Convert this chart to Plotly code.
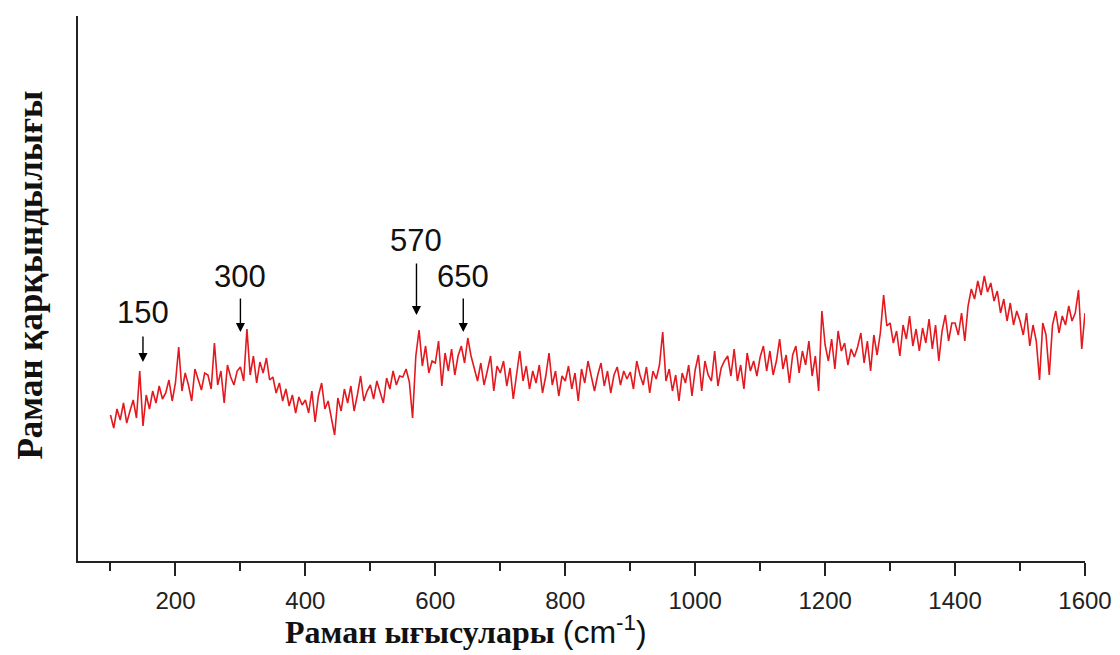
import plotly.graph_objects as go

# Raman shift grid (cm^-1), step 5
shift = list(range(100, 1601, 5))

# Intensity (arbitrary units), 10 values per 50 cm^-1
intensity = [
    146, 133, 152, 141, 158, 138, 150, 161, 143, 190,   # 100-145
    135, 166, 152, 170, 158, 175, 162, 168, 181, 160,   # 150-195
    178, 214, 170, 188, 176, 160, 192, 181, 171, 188,   # 200-245
    186, 172, 218, 176, 190, 158, 196, 184, 176, 190,   # 250-295
    194, 180, 232, 186, 205, 178, 199, 188, 203, 181,   # 300-345
    184, 168, 178, 160, 172, 155, 166, 148, 164, 156,   # 350-395
    161, 148, 170, 139, 165, 178, 152, 160, 144, 126,   # 400-445
    163, 150, 172, 158, 175, 150, 166, 185, 160, 170,   # 450-495
    176, 162, 180, 170, 158, 183, 172, 190, 176, 185,   # 500-545
    184, 192, 179, 143, 205, 231, 195, 215, 188, 200,   # 550-595
    198, 220, 175, 208, 190, 212, 186, 205, 215, 198,   # 600-645
    223, 205, 192, 180, 198, 176, 190, 205, 170, 195,   # 650-695
    188, 200, 175, 193, 162, 185, 210, 180, 195, 172,   # 700-745
    190, 178, 196, 168, 185, 208, 176, 190, 165, 185,   # 750-795
    180, 195, 172, 188, 160, 192, 178, 200, 185, 170,   # 800-845
    186, 198, 175, 190, 168, 186, 194, 176, 190, 182,   # 850-895
    189, 172, 200, 186, 176, 194, 168, 190, 182, 196,   # 900-945
    229, 180, 192, 170, 186, 160, 188, 178, 196, 165,   # 950-995
    191, 206, 170, 200, 186, 180, 210, 175, 193, 200,   # 1000-1045
    205, 185, 212, 180, 196, 172, 208, 190, 200, 185,   # 1050-1095
    204, 215, 190, 210, 186, 200, 222, 192, 206, 178,   # 1100-1145
    206, 215, 188, 210, 196, 220, 185, 205, 170, 250,   # 1150-1195
    216, 200, 222, 192, 230, 210, 218, 196, 212, 204,   # 1200-1245
    214, 228, 198, 220, 190, 226, 206, 228, 266, 235,   # 1250-1295
    238, 218, 230, 205, 236, 222, 245, 215, 232, 210,   # 1300-1345
    233, 218, 242, 212, 236, 200, 230, 246, 220, 238,   # 1350-1395
    238, 226, 248, 220, 255, 272, 262, 280, 266, 285,   # 1400-1445
    269, 278, 260, 270, 248, 262, 240, 258, 236, 250,   # 1450-1495
    240, 226, 248, 215, 236, 220, 181, 238, 226, 186,   # 1500-1545
    236, 250, 228, 245, 236, 255, 240, 248, 271, 212,   # 1550-1595
    248,                                                # 1600
]

# Peak markers: label, arrow head (x, y), arrow tail y, label y
peak_labels = ["150", "300", "570", "650"]
peak_x = [150, 300, 571, 643]
peak_head_y = [199, 229, 246, 229]
peak_tail_y = [226, 264, 299, 264]
peak_text_y = [249, 285, 321, 285]

x_ticks = [200, 400, 600, 800, 1000, 1200, 1400, 1600]
minor_ticks = [100, 300, 500, 700, 900, 1100, 1300, 1500]

fig = go.Figure()
fig.add_trace(go.Scatter(
    x=shift, y=intensity, mode="lines",
    line=dict(color="#e3191f", width=1.6),
    showlegend=False, hoverinfo="skip",
))

for lab, px, hy, ty, ly in zip(peak_labels, peak_x, peak_head_y, peak_tail_y, peak_text_y):
    fig.add_annotation(
        x=px, y=hy, ax=px, ay=ty, xref="x", yref="y", axref="x", ayref="y",
        text="", showarrow=True, arrowhead=2, arrowsize=1.3, arrowwidth=1.4,
        arrowcolor="black", standoff=0,
    )
    fig.add_annotation(
        x=px, y=ly, xref="x", yref="y", text=lab, showarrow=False,
        font=dict(family="Liberation Sans, Arial", size=31, color="#111"),
        xanchor="center", yanchor="middle",
    )

fig.add_annotation(
    x=0.385, y=-0.126, xref="paper", yref="paper", showarrow=False,
    text="<b>Раман ығысулары</b> <span style='font-family:Liberation Sans'>(cm<sup>-1</sup>)</span>",
    font=dict(family="Liberation Serif, Times New Roman", size=32, color="#111"),
    xanchor="center", yanchor="middle",
)
fig.add_annotation(
    x=-0.047, y=0.525, xref="paper", yref="paper", showarrow=False,
    text="<b>Раман қарқындылығы</b>", textangle=-90,
    font=dict(family="Liberation Serif, Times New Roman", size=35, color="#111"),
    xanchor="center", yanchor="middle",
)

fig.update_layout(
    width=1112, height=647,
    margin=dict(l=70, r=35, t=8, b=94),
    paper_bgcolor="white", plot_bgcolor="white",
    xaxis=dict(
        range=[50, 1600], showgrid=False, zeroline=False,
        showline=True, linecolor="#222", linewidth=2,
        tickvals=x_ticks, ticktext=[str(v) for v in x_ticks],
        ticks="outside", ticklen=13, tickwidth=2, tickcolor="#222",
        tickfont=dict(family="Liberation Sans, Arial", size=24, color="#222"),
        ticklabelstandoff=4,
        minor=dict(tickvals=minor_ticks, ticks="outside", ticklen=8, tickwidth=2, tickcolor="#222"),
    ),
    yaxis=dict(
        range=[0, 545], showgrid=False, zeroline=False,
        showline=True, linecolor="#222", linewidth=2,
        showticklabels=False, ticks="",
    ),
)

fig.write_html("out.html")
